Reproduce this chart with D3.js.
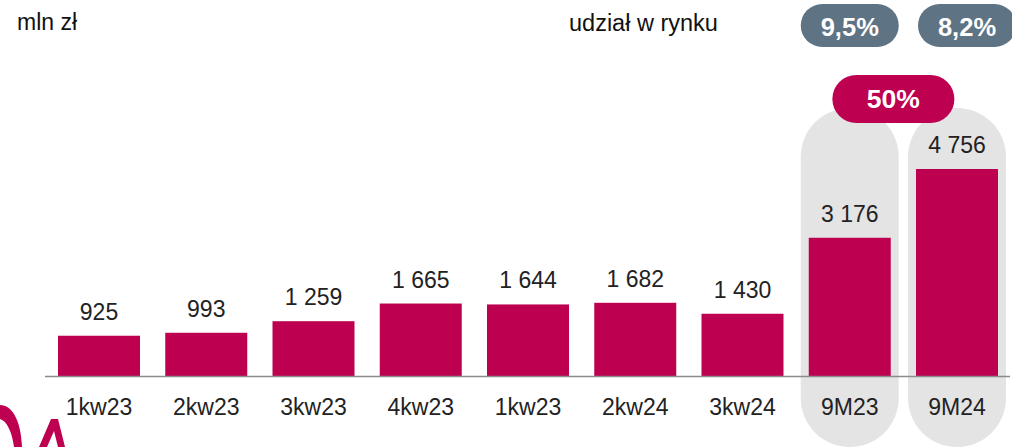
<!DOCTYPE html>
<html lang="pl">
<head>
<meta charset="UTF-8">
<title>mln zł</title>
<script src="https://d3js.org/d3.v7.min.js"></script>
<style>
  body { margin: 0; background: #fff; }
  svg { display: block; font-family: "Liberation Sans", Arial, sans-serif; }
</style>
</head>
<body>
<svg width="1012" height="447"></svg>
<script>
// data
const categories = ["1kw23", "2kw23", "3kw23", "4kw23", "1kw23 ", "2kw24", "3kw24", "9M23", "9M24"];
const labels = ["1kw23", "2kw23", "3kw23", "4kw23", "1kw23", "2kw24", "3kw24", "9M23", "9M24"];
const values = [925, 993, 1259, 1665, 1644, 1682, 1430, 3176, 4756];
const highlighted = ["9M23", "9M24"];
const shareLabels = ["9,5%", "8,2%"];
const growthLabel = "50%";

const magenta = "#be0050";
const slate = "#5e7384";
const fmt = v => d3.format(",")(v).replace(/,/g, " ");

const svg = d3.select("svg");
const baseY = 376;

const x = d3.scaleBand().domain(categories).range([58, 998]).paddingInner(0.2354).paddingOuter(0);
const y = d3.scaleLinear().domain([0, 4756]).range([baseY, 169]);
const cx = d => x(d) + x.bandwidth() / 2;

// grey pills behind the highlighted columns
const pillW = 98;
svg.selectAll(".hl").data(highlighted).enter().append("rect")
  .attr("x", d => cx(d) - pillW / 2)
  .attr("y", 108)
  .attr("width", pillW)
  .attr("height", 339)
  .attr("rx", 49).attr("ry", 49)
  .attr("fill", "#e4e4e4");

// bars
svg.selectAll(".bar").data(values).enter().append("rect")
  .attr("x", (d, i) => x(categories[i]))
  .attr("y", d => y(d))
  .attr("width", x.bandwidth())
  .attr("height", d => baseY - y(d))
  .attr("fill", magenta);

// axis line
svg.append("line")
  .attr("x1", 45).attr("x2", 1010)
  .attr("y1", baseY + 0.5).attr("y2", baseY + 0.5)
  .attr("stroke", "#8c8c8c").attr("stroke-width", 1.5);

// value labels
svg.selectAll(".val").data(values).enter().append("text")
  .attr("x", (d, i) => cx(categories[i]))
  .attr("y", d => y(d) - 16)
  .attr("text-anchor", "middle")
  .attr("font-size", 23)
  .attr("fill", "#222")
  .text(d => fmt(d));

// category labels
svg.selectAll(".cat").data(labels).enter().append("text")
  .attr("x", (d, i) => cx(categories[i]))
  .attr("y", 415)
  .attr("text-anchor", "middle")
  .attr("font-size", 23)
  .attr("fill", "#222")
  .text(d => d);

// titles
svg.append("text").attr("x", 17).attr("y", 30)
  .attr("font-size", 23).attr("fill", "#111").text("mln zł");
svg.append("text").attr("x", 569).attr("y", 31)
  .attr("font-size", 23.5).attr("fill", "#111").text("udział w rynku");

// market share pills
const shareW = 98;
const shareG = svg.selectAll(".share").data(shareLabels).enter().append("g")
  .attr("transform", (d, i) => `translate(${cx(highlighted[i]) - shareW / 2 + (i ? 10 : 0)},4)`);
shareG.append("rect")
  .attr("width", shareW).attr("height", 43)
  .attr("rx", 21.5).attr("ry", 21.5)
  .attr("fill", slate);
shareG.append("text")
  .attr("x", shareW / 2).attr("y", 32)
  .attr("text-anchor", "middle")
  .attr("font-size", 25.5).attr("font-weight", "bold")
  .attr("fill", "#fff")
  .text(d => d);

// growth pill
const gx = (cx("9M23") + cx("9M24")) / 2 - 10;
svg.append("rect")
  .attr("x", gx - 61).attr("y", 75)
  .attr("width", 122).attr("height", 48)
  .attr("rx", 24).attr("ry", 24)
  .attr("fill", magenta);
svg.append("text")
  .attr("x", gx).attr("y", 108)
  .attr("text-anchor", "middle")
  .attr("font-size", 26.5).attr("font-weight", "bold")
  .attr("fill", "#fff")
  .text(growthLabel);

// logo fragment, bottom left
const logo = svg.append("g").attr("fill", magenta);
logo.append("path").attr("d", "M0,405 C12,405 21,420 22,447 L14,447 C12,432 7,421 0,419 Z");
logo.append("path").attr("d", "M39,447 L51,419 L58,419 L65,447 L58,447 L54,431 L47,447 Z");
</script>
</body>
</html>
